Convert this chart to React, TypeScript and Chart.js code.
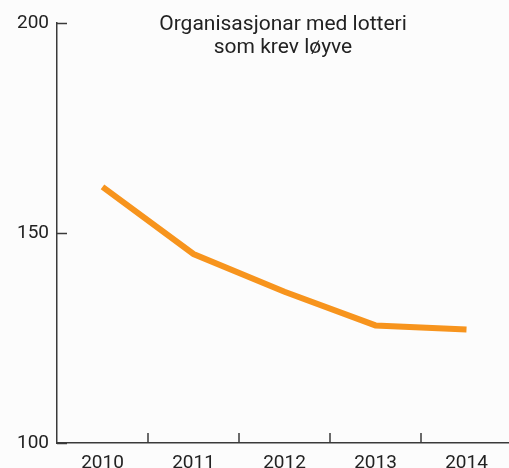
import React, { useEffect, useRef } from "react";
import { Chart, registerables } from "chart.js";

Chart.register(...registerables);

const categories = ["2010", "2011", "2012", "2013", "2014"];
const values = [161, 145, 136, 128, 127];
const yTicks = [100, 150, 200];
const titleLines = ["Organisasjonar med lotteri", "som krev løyve"];

const FONT = "Roboto, 'DejaVu Sans', sans-serif";
const AXIS = "#3a3a3a";

const innerTicks = {
  id: "innerTicks",
  afterDraw(chart: any) {
    const ctx = chart.ctx;
    const x = chart.scales.x;
    const y = chart.scales.y;
    ctx.save();
    ctx.strokeStyle = AXIS;
    ctx.lineWidth = 1.5;
    ctx.beginPath();
    for (const v of yTicks) {
      const py = Math.round(y.getPixelForValue(v)) + 0.5;
      ctx.moveTo(x.left, py);
      ctx.lineTo(x.left + 10, py);
    }
    for (let i = 1; i < categories.length; i++) {
      const px = Math.round((x.getPixelForTick(i - 1) + x.getPixelForTick(i)) / 2);
      ctx.moveTo(px, y.bottom);
      ctx.lineTo(px, y.bottom - 10);
    }
    ctx.stroke();
    // title inside plot
    ctx.fillStyle = "#222";
    ctx.font = `21px ${FONT}`;
    ctx.textAlign = "center";
    ctx.textBaseline = "alphabetic";
    const cx = 283;
    titleLines.forEach((t, i) => ctx.fillText(t, cx, 30 + i * 23));
    ctx.restore();
  },
};

export default function App() {
  const ref = useRef<HTMLCanvasElement>(null);
  useEffect(() => {
    const chart = new Chart(ref.current!, {
      type: "line",
      data: {
        labels: categories,
        datasets: [
          {
            data: values,
            borderColor: "#f7941d",
            borderWidth: 6,
            pointRadius: 0,
            tension: 0,
            borderCapStyle: "butt",
            borderJoinStyle: "miter",
          },
        ],
      },
      options: {
        animation: false,
        responsive: false,
        maintainAspectRatio: false,
        layout: { padding: { top: 23, right: 0, bottom: 0, left: 0 } },
        plugins: { legend: { display: false }, title: { display: false }, tooltip: { enabled: false } },
        scales: {
          x: {
            offset: true,
            grid: { display: false, offset: true },
            border: { display: true, color: AXIS, width: 1.5 },
            ticks: { color: "#222", font: { family: FONT, size: 19 }, padding: 1, maxRotation: 0 },
            afterFit: (s: any) => { s.height = 25; },
          },
          y: {
            min: 100,
            max: 200,
            afterBuildTicks: (s: any) => { s.ticks = yTicks.map((v) => ({ value: v })); },
            grid: { display: false, drawTicks: false },
            border: { display: true, color: AXIS, width: 1.5 },
            ticks: { color: "#222", font: { family: FONT, size: 19 }, padding: 8 },
            afterFit: (s: any) => { s.width = 57; },
          },
        },
      },
      plugins: [innerTicks],
    });
    return () => chart.destroy();
  }, []);
  return (
    <div style={{ position: "fixed", left: 0, top: 0, width: 509, height: 468, overflow: "hidden", background: "#fcfcfc" }}>
      <canvas ref={ref} width={512} height={468} style={{ display: "block" }} />
    </div>
  );
}
